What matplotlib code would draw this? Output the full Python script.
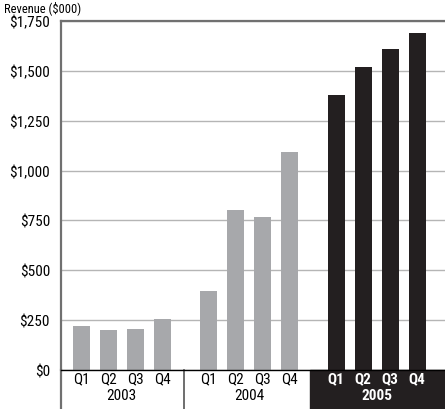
import numpy as np
import matplotlib
matplotlib.use("Agg")
import matplotlib.pyplot as plt
from matplotlib.patches import Rectangle

years = ["2003", "2004", "2005"]
quarters = ["Q1", "Q2", "Q3", "Q4"]
revenue = [
    [220, 200, 205, 255],
    [395, 801, 766, 1092],
    [1380, 1520, 1610, 1692],
]
yticks = [0, 250, 500, 750, 1000, 1250, 1500, 1750]
ytick_labels = ["$0", "$250", "$500", "$750", "$1,000", "$1,250", "$1,500", "$1,750"]

GRIS, NEGRO = "#a7a8ab", "#231f20"
plt.rcParams["font.family"] = ["Roboto Condensed", "Archivo Narrow", "DejaVu Sans"]
plt.rcParams["font.size"] = 11

fig = plt.figure(figsize=(4.45, 4.10), dpi=100)
ax = fig.add_axes([61 / 445, 39 / 410, 1 - 61 / 445, 349 / 410])

stride = 4.72
w = 0.63
for g, vals in enumerate(revenue):
    x = g * stride + np.arange(len(quarters))
    ax.bar(x, vals, w, color=NEGRO if g == 2 else GRIS, zorder=3)
    bold = g == 2
    col = "white" if bold else "black"
    for xi, q in zip(x, quarters):
        ax.text(xi, -0.024, q, transform=ax.get_xaxis_transform(), ha="center", va="center",
                color=col, fontweight="bold" if bold else "normal", zorder=6)
    ax.text(x.mean(), -0.072, years[g], transform=ax.get_xaxis_transform(), ha="center",
            va="center", color=col, fontweight="bold" if bold else "normal", zorder=6)

trans = ax.get_xaxis_transform()
# caja negra 2005 y separador 2003/2004
ax.add_patch(Rectangle((2 * stride - 0.97, -0.2), 20, 0.2, transform=trans,
                       color=NEGRO, clip_on=False, zorder=5))
ax.plot([stride - 0.91] * 2, [-0.2, 0], transform=trans, color="#555555", lw=1.2, clip_on=False)
ax.plot([0, 0], [-0.2, 0], transform=ax.transAxes, color="#707070", lw=1.6, clip_on=False)

ax.set_xlim(-0.755, 13.47)
ax.set_ylim(0, 1750)
ax.set_yticks(yticks)
ax.set_yticklabels(ytick_labels)
ax.set_xticks([])
ax.tick_params(axis="y", length=0, pad=8)
ax.grid(axis="y", color="#b5b5b5", lw=1, zorder=0)
ax.spines["right"].set_visible(False)
for s in ("left", "top"):
    ax.spines[s].set_color("#707070")
    ax.spines[s].set_linewidth(1.6)
ax.spines["bottom"].set_color("black")
ax.spines["bottom"].set_linewidth(1)
ax.spines["bottom"].set_zorder(7)

fig.text(4 / 445, 398 / 410, "Revenue ($000)", ha="left", va="baseline", fontsize=9)

fig.savefig("out.png", dpi=100, facecolor="white")
